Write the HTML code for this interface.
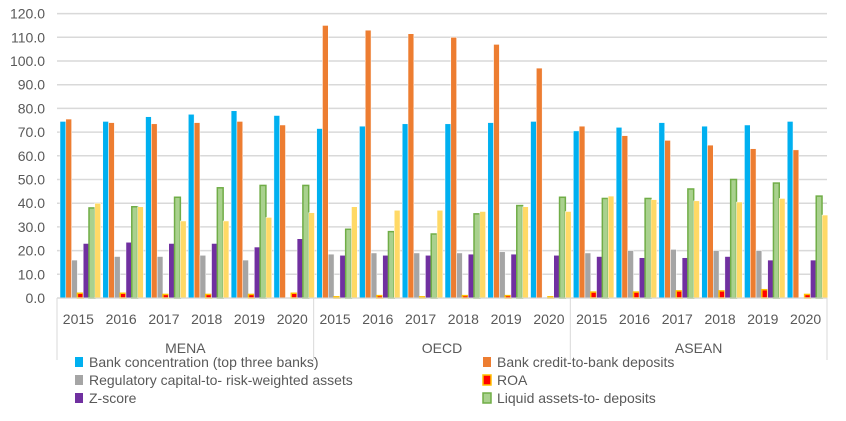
<!DOCTYPE html>
<html><head><meta charset="utf-8"><style>
body{margin:0;background:#fff;font-family:"Liberation Sans",sans-serif;}
svg text{font-family:"Liberation Sans",sans-serif;fill:#595959;}
</style></head><body>
<svg id="chart" width="846" height="416"></svg>
<script>
const regions = ["MENA","OECD","ASEAN"];
const years = ["2015","2016","2017","2018","2019","2020"];
const yTicks = [0,10,20,30,40,50,60,70,80,90,100,110,120];
const seriesNames = ["Bank concentration (top three banks)","Bank credit-to-bank deposits","Regulatory capital-to- risk-weighted assets","ROA","Z-score","Liquid assets-to- deposits",""];
const concentration = [74.5,74.5,76.5,77.5,79,77, 71.5,72.5,73.5,73.5,74,74.5, 70.5,72,74,72.5,73,74.5];
const credit = [75.5,74,73.5,74,74.5,73, 115,113,111.5,110,107,97, 72.5,68.5,66.5,64.5,63,62.5];
const capital = [16,17.5,17.5,18,16,0, 18.5,19,19,19,19.5,0, 19,20,20.5,20,20,0];
const roa = [2,2,1.5,1.5,1.5,2, 0.5,1,0.5,1,1,0.5, 2.5,2.5,3,3,3.5,1.5];
const zscore = [23,23.5,23,23,21.5,25, 18,18,18,18.5,18.5,18, 17.5,17,17,17.5,16,16];
const liquid = [38,38.5,42.5,46.5,47.5,47.5, 29,28,27,35.5,39,42.5, 42,42,46,50,48.5,43];
const other = [40,38.5,32.5,32.5,34,36, 38.5,37,37,36.5,38.5,36.5, 43,41.5,41,40.5,42,35];

const series=[concentration,credit,capital,roa,zscore,liquid,other];
const fills=["#00b0f0","#ed7d31","#a5a5a5","#ff0000","#7030a0","#a9d18e","#ffd966"];
const strokes=["#ffffff","#ffffff","#ffffff","#ffc000","#ffffff","#70ad47","#ffffff"];
const names=["bar-bank-concentration","bar-bank-credit","bar-regulatory-capital","bar-roa","bar-z-score","bar-liquid-assets","bar-other"];
const svg=document.getElementById('chart');const NS="http://www.w3.org/2000/svg";
const L=57,R=827,T=13.6,B=298,ymax=120;
const y=v=>B-(v/ymax)*(B-T);
const nG=18,gw=(R-L)/nG,bw=5.8,off=3;
const x=(g,s)=>L+g*gw+off+s*bw;
function mk(tag,a,p){const e=document.createElementNS(NS,tag);for(const k in a)e.setAttribute(k,a[k]);(p||svg).appendChild(e);return e;}
yTicks.forEach(t=>{
 const l=mk('line',{x1:L,x2:R,y1:y(t),y2:y(t),stroke:'#d9d9d9','stroke-width':1.5});
 
 
 const tx=mk('text',{x:45,y:y(t)+5,'text-anchor':'end','font-size':14});tx.textContent=t.toFixed(1);
 
 
});
series.forEach((arr,s)=>{arr.forEach((v,g)=>{
 if(v<=0)return;
 const r=mk('rect',{x:x(g,s),y:y(v),width:bw,height:B-y(v),fill:fills[s],stroke:strokes[s],'stroke-width':s==3||s==5?1.5:0.5});
 
 
});});
mk('line',{x1:L,x2:R,y1:B,y2:B,stroke:'#d9d9d9','stroke-width':1});
[0,6,12,18].forEach(g=>{const l=mk('line',{x1:L+g*gw,x2:L+g*gw,y1:B,y2:360,stroke:'#d9d9d9','stroke-width':1});
 
 });
for(let g=0;g<18;g++){const t=mk('text',{x:L+g*gw+gw/2,y:324,'text-anchor':'middle','font-size':14});t.textContent=years[g%6];
 
 }
regions.forEach((r,i)=>{const t=mk('text',{x:L+(i*6+3)*gw,y:353,'text-anchor':'middle','font-size':14});t.textContent=r;
 
 });
const legPos=[[75,367],[483,367],[75,385],[483,385],[75,403],[483,403]];
legPos.forEach((p,i)=>{
 const r=mk('rect',{x:p[0],y:p[1]-10,width:8,height:10,fill:fills[i],stroke:i==3?'#ffc000':(i==5?'#70ad47':'none'),'stroke-width':1.5});
 
 
 const t=mk('text',{x:p[0]+14,y:p[1],'font-size':14});t.textContent=seriesNames[i];
 
 
});
</script>
</body></html>
